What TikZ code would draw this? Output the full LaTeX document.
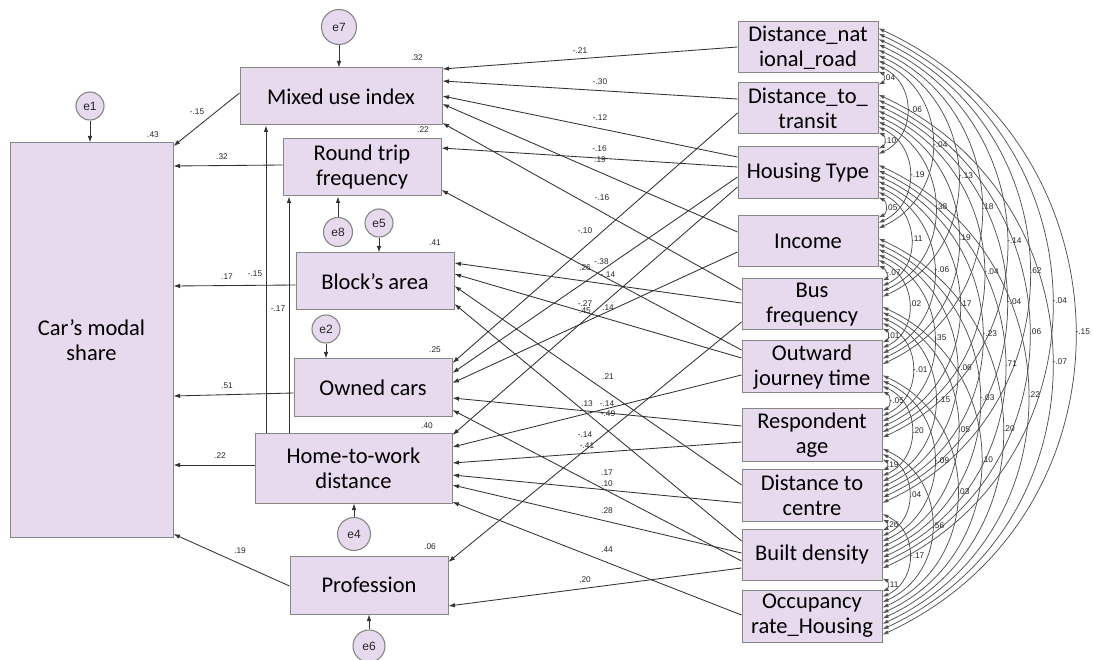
\documentclass[tikz,border=0pt]{standalone}
\usepackage{fontspec}
\setmainfont{Carlito}
\newfontfamily\numfont{Liberation Sans}
\usetikzlibrary{arrows.meta,calc}
\definecolor{boxfill}{RGB}{231,217,238}
\definecolor{boxline}{RGB}{135,135,135}
\definecolor{pathline}{RGB}{50,50,50}
\begin{document}
\begin{tikzpicture}[x=1pt,y=-1pt,
  box/.style={draw=boxline, fill=boxfill, line width=1pt, inner sep=0pt, align=center,
    font=\fontsize{22.5}{25}\selectfont, text=black},
  err/.style={circle, draw=boxline, fill=boxfill, line width=1.1pt, inner sep=0pt,
    font=\numfont\fontsize{12}{12}\selectfont, text=black!85},
  arr/.style={draw=pathline, line width=0.85pt, -{Latex[length=6.5pt,width=4.5pt]}},
  cov/.style={draw=pathline!85, line width=0.75pt,
    {Latex[length=6pt,width=4pt]}-{Latex[length=6pt,width=4pt]}},
  lab/.style={font=\numfont\fontsize{8.3}{8.3}\selectfont, inner sep=0.5pt, text=black!85},
  lu/.style={lab, pos=0.5, xshift=10pt, yshift=8.5pt},
  ld/.style={lab, pos=0.5, xshift=-10pt, yshift=7pt},
  covlab/.style={lab, anchor=west}]

\fill[white] (0,0) rectangle (1093,660);
\useasboundingbox (0,0) rectangle (1093,660);

% endogenous variables
\node[box, minimum width=163pt, minimum height=394pt] (CAR) at (91.5,340) {Car’s modal\\share};
\node[box, minimum width=202pt, minimum height=57pt] (MIX) at (341,96.5) {Mixed use index};
\node[box, minimum width=158pt, minimum height=57pt] (RTF) at (362,167.5) {Round trip\\frequency};
\node[box, minimum width=158pt, minimum height=57pt] (BLK) at (375,281.5) {Block’s area};
\node[box, minimum width=158pt, minimum height=57pt] (OWN) at (373,387.5) {Owned cars};
\node[box, minimum width=197pt, minimum height=70pt] (HTW) at (353.5,468) {Home-to-work\\distance};
\node[box, minimum width=158pt, minimum height=58pt] (PRO) at (369,585) {Profession};

% exogenous variables
\node[box, minimum width=140pt, minimum height=51pt] (r0) at (808,47.5) {Distance\_nat\\ional\_road};
\node[box, minimum width=140pt, minimum height=51pt] (r1) at (808,108.5) {Distance\_to\_\\transit};
\node[box, minimum width=140pt, minimum height=52pt] (r2) at (808,173) {Housing Type};
\node[box, minimum width=140pt, minimum height=51pt] (r3) at (808,241.5) {Income};
\node[box, minimum width=140pt, minimum height=51pt] (r4) at (812,304.5) {Bus\\frequency};
\node[box, minimum width=140pt, minimum height=52pt] (r5) at (812,367) {Outward\\journey time};
\node[box, minimum width=140pt, minimum height=52pt] (r6) at (812,435) {Respondent\\age};
\node[box, minimum width=140pt, minimum height=52pt] (r7) at (812,495) {Distance to\\centre};
\node[box, minimum width=140pt, minimum height=51pt] (r8) at (812,554.5) {Built density};
\node[box, minimum width=140pt, minimum height=52pt] (r9) at (812,616) {Occupancy\\rate\_Housing};

% error terms
\node[err, minimum size=28pt] (e1) at (90,106) {e1};
\node[err, minimum size=35pt] (e7) at (339,27) {e7};
\node[err, minimum size=29pt] (e8) at (338,232) {e8};
\node[err, minimum size=28pt] (e5) at (379,223) {e5};
\node[err, minimum size=28pt] (e2) at (326,329) {e2};
\node[err, minimum size=33pt] (e4) at (354,534) {e4};
\node[err, minimum size=32pt] (e6) at (369,646) {e6};

\draw[arr] (e1.south) -- (e1.south |- CAR.north);
\draw[arr] (e7.south) -- (e7.south |- MIX.north);
\draw[arr] (e8.north) -- (e8.north |- RTF.south);
\draw[arr] (e5.south) -- (e5.south |- BLK.north);
\draw[arr] (e2.south) -- (e2.south |- OWN.north);
\draw[arr] (e4.north) -- (e4.north |- HTW.south);
\draw[arr] (e6.north) -- (e6.north |- PRO.south);

% squared multiple correlations
\node[lab] at (153,135) {.43};
\node[lab] at (417,58) {.32};
\node[lab] at (423,130) {.22};
\node[lab] at (435,243) {.41};
\node[lab] at (435,350) {.25};
\node[lab] at (427,426) {.40};
\node[lab] at (430,547) {.06};

% paths into car's modal share
\draw[arr] (MIX.west |- 0,93) -- (CAR.east |- 0,146);
\draw[arr] (RTF.west |- 0,165) -- (CAR.east |- 0,166);
\draw[arr] (BLK.west |- 0,285) -- (CAR.east |- 0,286);
\draw[arr] (OWN.west |- 0,393) -- (CAR.east |- 0,396);
\draw[arr] (HTW.west |- 0,465) -- (CAR.east |- 0,465);
\draw[arr] (PRO.west |- 0,586) -- (CAR.east |- 0,534);
\node[lab] at (197,112) {-.15};
\node[lab] at (222,157) {.32};
\node[lab] at (227,277) {.17};
\node[lab] at (227,386) {.51};
\node[lab] at (220,456) {.22};
\node[lab] at (240,551) {.19};

% home-to-work distance upwards
\draw[arr] (HTW.north -| 266,0) -- (MIX.south -| 266,0);
\draw[arr] (HTW.north -| 289,0) -- (RTF.south -| 289,0);
\node[lab] at (255,274) {-.15};
\node[lab] at (278,309) {-.17};

% paths from exogenous variables
\draw[arr] (r0.west |- 0,47)  -- (MIX.east |- 0,69)  node[ld]{-.21};
\draw[arr] (r1.west |- 0,99)  -- (MIX.east |- 0,81)  node[lu]{-.30};
\draw[arr] (r2.west |- 0,157) -- (MIX.east |- 0,96)  node[lu]{-.12};
\draw[arr] (r2.west |- 0,167) -- (RTF.east |- 0,148) node[lu]{-.16};
\draw[arr] (r3.west |- 0,232) -- (MIX.east |- 0,104) node[lu]{.19};
\draw[arr] (r4.west |- 0,290) -- (MIX.east |- 0,123) node[lu]{-.16};
\draw[arr] (r1.west |- 0,113) -- (OWN.east |- 0,363) node[ld]{-.10};
\draw[arr] (r5.west |- 0,350) -- (RTF.east |- 0,190) node[lu]{-.38};
\draw[arr] (r2.west |- 0,177) -- (OWN.east |- 0,373) node[ld]{.26};
\draw[arr] (r4.west |- 0,303) -- (BLK.east |- 0,263) node[lu]{-.14};
\draw[arr] (r5.west |- 0,358) -- (BLK.east |- 0,274) node[lu]{.14};
\draw[arr] (r2.west |- 0,187) -- (HTW.east |- 0,435) node[ld]{-.27};
\draw[arr] (r3.west |- 0,252) -- (OWN.east |- 0,383) node[ld]{.45};
\draw[arr] (r7.west |- 0,485) -- (BLK.east |- 0,286) node[lu]{.21};
\draw[arr] (r6.west |- 0,426) -- (OWN.east |- 0,398) node[lu]{-.14};
\draw[arr] (r8.west |- 0,541) -- (BLK.east |- 0,304) node[lu]{-.49};
\draw[arr] (r4.west |- 0,322) -- (PRO.east |- 0,562) node[ld]{-.14};
\draw[arr] (r5.west |- 0,375) -- (HTW.east |- 0,447) node[ld]{.13};
\draw[arr] (r6.west |- 0,442) -- (HTW.east |- 0,463) node[ld]{-.41};
\draw[arr] (r7.west |- 0,503) -- (HTW.east |- 0,475) node[lu, yshift=-3pt]{.10};
\draw[arr] (r8.west |- 0,553) -- (HTW.east |- 0,485) node[lu]{.28};
\draw[arr] (r8.west |- 0,561) -- (OWN.east |- 0,410) node[lu, yshift=4pt]{.17};
\draw[arr] (r9.west |- 0,615) -- (HTW.east |- 0,502) node[lu]{.44};
\draw[arr] (r8.west |- 0,568) -- (PRO.east |- 0,606) node[ld]{.20};

% covariances among exogenous variables
\def\tops{{22,83,147,216,279,341,409,469,529,590}}
\def\bots{{73,134,199,267,330,393,461,521,580,642}}
\foreach \i/\j/\v in {
  0/1/.04, 0/2/-.06, 0/3/-.04, 0/4/-.13, 0/5/.18, 0/6/-.14, 0/7/.62, 0/8/-.04, 0/9/-.15,
  1/2/.10, 1/3/-.19, 1/4/.38, 1/5/.19, 1/6/-.04, 1/7/-.04, 1/8/.06, 1/9/-.07,
  2/3/.05, 2/4/.11, 2/5/-.06, 2/6/.17, 2/7/-.23, 2/8/.71, 2/9/.22,
  3/4/-.07, 3/5/.02, 3/6/.35, 3/7/-.06, 3/8/-.03, 3/9/.20,
  4/5/.01, 4/6/-.01, 4/7/-.15, 4/8/.05, 4/9/.10,
  5/6/-.05, 5/7/.20, 5/8/-.09, 5/9/.03,
  6/7/.19, 6/8/.04, 6/9/.56,
  7/8/.26, 7/9/-.17,
  8/9/.11}{
  \pgfmathsetmacro\kk{\j-\i-1}
  \pgfmathsetmacro\cl{\tops[\j]-\bots[\i]+4+10.8*\kk}
  \pgfmathsetmacro\cdx{0.427*\cl}
  \pgfmathsetmacro\cdy{0.197*\cl}
  \pgfmathsetmacro\sft{2+5.4*\kk}
  \pgfmathsetmacro\apx{0.32*\cl}
  \coordinate (P) at ($(r\i.south east)+(0,-\sft)$);
  \coordinate (Q) at ($(r\j.north east)+(0,\sft)$);
  \draw[cov] (P) .. controls ($(P)+(\cdx,\cdy)$) and ($(Q)+(\cdx,-\cdy)$) .. (Q);
  \node[covlab] at ($(P)!0.5!(Q)+(\apx,0)$) {\v};
}
\end{tikzpicture}
\end{document}
